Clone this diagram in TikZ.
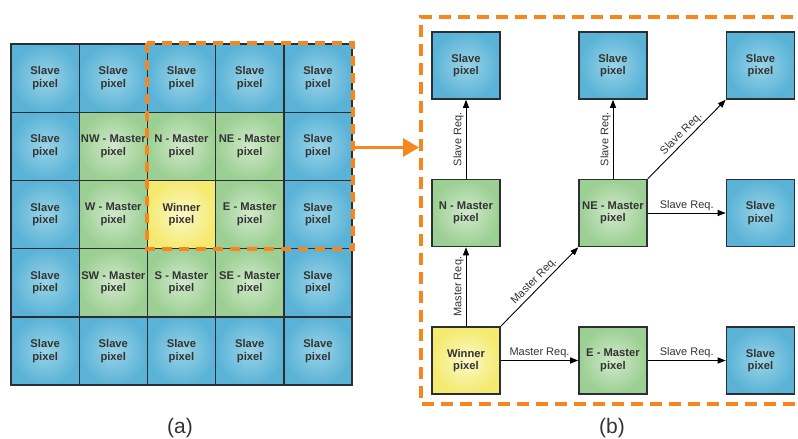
\documentclass[tikz,border=0pt]{standalone}
\usepackage{fontspec}
\setmainfont{Liberation Sans}
\usetikzlibrary{arrows.meta}
\definecolor{bluein}{HTML}{9AD3E7}
\definecolor{blueout}{HTML}{5AB3D7}
\definecolor{greenin}{HTML}{D0E9CA}
\definecolor{greenout}{HTML}{9CCF93}
\definecolor{yellowin}{HTML}{FCF8C8}
\definecolor{yellowout}{HTML}{F4EA70}
\definecolor{orng}{HTML}{F7861F}
\definecolor{edgec}{HTML}{2B2F33}
\definecolor{txt}{HTML}{333333}
\tikzset{
  cell/.style={draw=edgec, line width=1.4pt, minimum width=68.2pt, minimum height=68.2pt,
    inner sep=0pt, align=center, font=\fontsize{11.2}{12.5}\selectfont\bfseries, text=txt},
  slave/.style={cell, shading=radial, inner color=bluein, outer color=blueout},
  master/.style={cell, shading=radial, inner color=greenin, outer color=greenout},
  winner/.style={cell, shading=radial, inner color=yellowin, outer color=yellowout},
  bbox/.style={minimum width=68pt, minimum height=67pt, line width=1.6pt},
  req/.style={draw=black, line width=0.9pt, -{Triangle[length=8pt,width=6pt]}},
  lbl/.style={font=\fontsize{11}{13}\selectfont, text=txt, inner sep=2pt},
  orngdash/.style={draw=orng, line width=4pt, dash pattern=on 10pt off 7pt},
  captext/.style={font=\fontsize{21}{25}\selectfont, text=txt}
}
\begin{document}
\begin{tikzpicture}[x=1pt,y=-1pt]
\useasboundingbox (0,0) rectangle (798,439);
% ---- (a) grid ----
\node[slave]  (g00) at (45.1,78.1)  {Slave\\pixel};
\node[slave]  (g01) at (113.3,78.1) {Slave\\pixel};
\node[slave]  (g02) at (181.5,78.1) {Slave\\pixel};
\node[slave]  (g03) at (249.7,78.1) {Slave\\pixel};
\node[slave]  (g04) at (317.9,78.1) {Slave\\pixel};
\node[slave]  (g10) at (45.1,146.3)  {Slave\\pixel};
\node[master] (g11) at (113.3,146.3) {NW - Master\\pixel};
\node[master] (g12) at (181.5,146.3) {N - Master\\pixel};
\node[master] (g13) at (249.7,146.3) {NE - Master\\pixel};
\node[slave]  (g14) at (317.9,146.3) {Slave\\pixel};
\node[slave]  (g20) at (45.1,214.5)  {Slave\\pixel};
\node[master] (g21) at (113.3,214.5) {W - Master\\pixel};
\node[winner] (g22) at (181.5,214.5) {Winner\\pixel};
\node[master] (g23) at (249.7,214.5) {E - Master\\pixel};
\node[slave]  (g24) at (317.9,214.5) {Slave\\pixel};
\node[slave]  (g30) at (45.1,282.7)  {Slave\\pixel};
\node[master] (g31) at (113.3,282.7) {SW - Master\\pixel};
\node[master] (g32) at (181.5,282.7) {S - Master\\pixel};
\node[master] (g33) at (249.7,282.7) {SE - Master\\pixel};
\node[slave]  (g34) at (317.9,282.7) {Slave\\pixel};
\node[slave]  (g40) at (45.1,350.9)  {Slave\\pixel};
\node[slave]  (g41) at (113.3,350.9) {Slave\\pixel};
\node[slave]  (g42) at (181.5,350.9) {Slave\\pixel};
\node[slave]  (g43) at (249.7,350.9) {Slave\\pixel};
\node[slave]  (g44) at (317.9,350.9) {Slave\\pixel};
% orange selection in (a)
\draw[orngdash] (g02.north west) rectangle (g24.south east);
% arrow to (b)
\coordinate (arrend) at (419,147.5);
\draw[orng, line width=3pt, -{Triangle[length=16pt,width=18pt]}] (g14.east |- arrend) -- (arrend);
% ---- (b) ----
\draw[draw=orng, line width=4.5pt, dash pattern=on 12pt off 7pt] (812,17) -- (421,17) -- (421,404) -- (812,404);
\node[slave,bbox]  (bS1) at (466,65.5)  {Slave\\pixel};
\node[slave,bbox]  (bS2) at (613,65.5)  {Slave\\pixel};
\node[slave,bbox]  (bS3) at (760.5,65.5) {Slave\\pixel};
\node[master,bbox] (bN)  at (466,213)   {N - Master\\pixel};
\node[master,bbox] (bNE) at (613,213)   {NE - Master\\pixel};
\node[slave,bbox]  (bS4) at (760.5,213) {Slave\\pixel};
\node[winner,bbox] (bW)  at (466,360.5) {Winner\\pixel};
\node[master,bbox] (bE)  at (613,360.5) {E - Master\\pixel};
\node[slave,bbox]  (bS5) at (760.5,360.5) {Slave\\pixel};
\draw[req] (bN.north) -- node[lbl, sloped, above] {Slave Req.} (bS1.south);
\draw[req] (bNE.north) -- node[lbl, sloped, above] {Slave Req.} (bS2.south);
\draw[req] (bNE.north east) -- node[lbl, sloped, above] {Slave Req.} (bS3.south west);
\draw[req] (bNE.east) -- node[lbl, above] {Slave Req.} (bS4.west);
\draw[req] (bW.north) -- node[lbl, sloped, above] {Master Req.} (bN.south);
\draw[req] (bW.north east) -- node[lbl, sloped, above] {Master Req.} (bNE.south west);
\draw[req] (bW.east) -- node[lbl, above] {Master Req.} (bE.west);
\draw[req] (bE.east) -- node[lbl, above] {Slave Req.} (bS5.west);
% captions
\node[captext] (capa) at (180,428) {(a)};
\node[captext] (capb) at (612,428) {(b)};
\end{tikzpicture}
\end{document}
